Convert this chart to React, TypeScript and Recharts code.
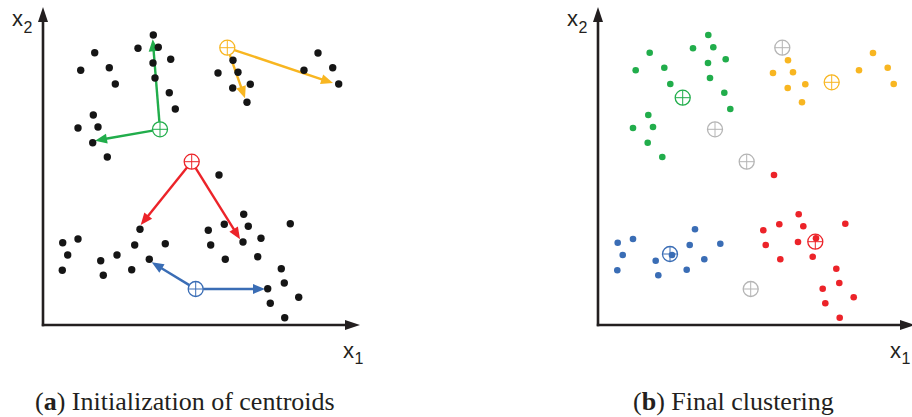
import { ScatterChart, Scatter, XAxis, YAxis, ReferenceLine } from 'recharts'

// Points are in axis units: origin at the corner of the axes, about 1 unit = 1px
type Pt = [number, number]

const clusterNames = ['green', 'yellow', 'red', 'blue']

const greenPts: Pt[] = [
  [110.3, 290], [115.3, 277.7], [95, 276.7], [51.7, 272.3], [127.7, 265.7], [110, 262],
  [37.7, 254.7], [66.3, 257.3], [72.3, 241], [112, 247], [126.3, 232.3], [132.3, 216],
  [50.3, 210], [35, 197], [55, 198], [49.7, 182.3], [64.3, 168],
]
const yellowPts: Pt[] = [
  [190, 264.7], [175, 252], [195, 252.7], [207.3, 240.7], [189.7, 237], [204, 222.7],
  [275, 272], [261, 254.7], [289.7, 257.3], [295.7, 241],
]
const redPts: Pt[] = [
  [176, 150], [165.3, 94.7], [181.3, 100.7], [200.7, 110.7], [205.3, 98.7], [167.7, 80],
  [200, 83], [218, 86.7], [182.3, 65.7], [214.7, 68.3], [247.3, 101.3], [238.3, 56.3],
  [241.3, 42], [224.7, 36.3], [255.7, 27.7], [227.3, 21.7], [241.7, 7.3],
]
const bluePts: Pt[] = [
  [97, 95.7], [19.7, 82.3], [35, 86], [24.7, 70], [19.3, 54.7], [57.7, 64.3],
  [60.3, 49.7], [74, 70], [91.7, 80], [88.7, 55.3], [106.3, 65.7], [122.3, 81.3],
]
const clusterPts = [greenPts, yellowPts, redPts, bluePts]

// starting centroids (a) and where they end up (b)
const initCentroids: Pt[] = [[117, 195.7], [184.3, 277.3], [148.7, 163.3], [152.7, 36]]
const finalCentroids: Pt[] = [[84.7, 227.3], [233.7, 242.7], [217.3, 83.3], [72, 71]]
// arrow tips from each starting centroid
const arrowTips: Pt[][] = [
  [[109.7, 285.7], [52, 184.3]],
  [[290, 242], [202, 226.7]],
  [[97.7, 100], [197, 85.7]],
  [[108.7, 62.7], [222, 36]],
]

const COLORS: Record<string, string> = {
  green: '#21ad4b',
  yellow: '#f8b621',
  red: '#ec2329',
  blue: '#3a6db5',
  black: '#151515',
  gray: '#b5b5b5',
  axis: '#231f20',
}

const W = 380
const H = 345
const MARGIN = { top: 5, right: 17, bottom: 20, left: 43 }
const DOMAIN: [number, number] = [0, 320]

const toData = (pts: Pt[]) => pts.map(([x, y]) => ({ x, y }))

const dot = (fill: string, r: number) => (p: any) => (
  <circle cx={p.cx} cy={p.cy} r={r} fill={fill} />
)

const centroid = (stroke: string) => (p: any) => {
  const r = 7.5
  return (
    <g>
      <circle cx={p.cx} cy={p.cy} r={r} fill="none" stroke={stroke} strokeWidth={1.3} />
      <line x1={p.cx - r} y1={p.cy} x2={p.cx + r} y2={p.cy} stroke={stroke} strokeWidth={1} />
      <line x1={p.cx} y1={p.cy - r} x2={p.cx} y2={p.cy + r} stroke={stroke} strokeWidth={1} />
    </g>
  )
}

const arrow = (color: string, width: number, headLen: number, headHalf: number, gap: number) => (p: any) => {
  const { x1, y1, x2, y2 } = p
  const dx = x2 - x1
  const dy = y2 - y1
  const len = Math.hypot(dx, dy) || 1
  const ux = dx / len
  const uy = dy / len
  const sx = x1 + ux * gap
  const sy = y1 + uy * gap
  const bx = x2 - ux * headLen
  const by = y2 - uy * headLen
  return (
    <g>
      <line x1={sx} y1={sy} x2={bx + ux} y2={by + uy} stroke={color} strokeWidth={width} />
      <polygon
        points={`${x2},${y2} ${bx - uy * headHalf},${by + ux * headHalf} ${bx + uy * headHalf},${by - ux * headHalf}`}
        fill={color}
      />
    </g>
  )
}

function Panel({ final }: { final: boolean }) {
  return (
    <ScatterChart width={W} height={H} margin={MARGIN}>
      <XAxis type="number" dataKey="x" domain={DOMAIN} allowDataOverflow hide />
      <YAxis type="number" dataKey="y" domain={DOMAIN} allowDataOverflow hide />
      <ReferenceLine
        segment={[{ x: 0, y: -1.2 }, { x: 0, y: 318 }]}
        ifOverflow="visible"
        shape={arrow(COLORS.axis, 2.6, 15, 5, 0)}
      />
      <ReferenceLine
        segment={[{ x: -1.2, y: 0 }, { x: 317, y: 0 }]}
        ifOverflow="visible"
        shape={arrow(COLORS.axis, 2.6, 15, 5, 0)}
      />
      {!final && clusterNames.map((name, i) =>
        arrowTips[i].map((tip, j) => (
          <ReferenceLine
            key={`${name}-${j}`}
            segment={[{ x: initCentroids[i][0], y: initCentroids[i][1] }, { x: tip[0], y: tip[1] }]}
            ifOverflow="visible"
            shape={arrow(COLORS[name], 2.4, 12, 5, 7.5)}
          />
        ))
      )}
      {final && (
        <Scatter data={toData(initCentroids)} shape={centroid(COLORS.gray)} isAnimationActive={false} />
      )}
      {clusterNames.map((name, i) => (
        <Scatter
          key={`c-${name}`}
          data={toData([final ? finalCentroids[i] : initCentroids[i]])}
          shape={centroid(COLORS[name])}
          isAnimationActive={false}
        />
      ))}
      {clusterNames.map((name, i) => (
        <Scatter
          key={`p-${name}`}
          data={toData(clusterPts[i])}
          shape={dot(final ? COLORS[name] : COLORS.black, final ? 3.3 : 3.7)}
          isAnimationActive={false}
        />
      ))}
    </ScatterChart>
  )
}

const sans = 'Liberation Sans, Arial, sans-serif'
const serif = 'Liberation Serif, Times New Roman, serif'

export default function App() {
  return (
    <div style={{ position: 'absolute', left: 0, top: 0, width: 912, height: 417, overflow: 'hidden', background: '#fff' }}>
      <div style={{ position: 'absolute', left: 0, top: 0 }}>
        <Panel final={false} />
      </div>
      <div style={{ position: 'absolute', left: 555, top: 0 }}>
        <Panel final />
      </div>
      <svg width={912} height={417} style={{ position: 'absolute', left: 0, top: 0, pointerEvents: 'none' }}>
        <g fill={COLORS.axis} fontFamily={sans}>
          <text x={12} y={26} fontSize={22}>x</text>
          <text x={23.5} y={33} fontSize={16}>2</text>
          <text x={567} y={26} fontSize={22}>x</text>
          <text x={578.5} y={33} fontSize={16}>2</text>
          <text x={343} y={358} fontSize={22}>x</text>
          <text x={354.5} y={364} fontSize={16}>1</text>
          <text x={890} y={358} fontSize={22}>x</text>
          <text x={901.5} y={364} fontSize={16}>1</text>
        </g>
        <g fill={COLORS.axis} fontFamily={serif} fontSize={26}>
          <text x={35} y={410}>(<tspan fontWeight="bold">a</tspan>) Initialization of centroids</text>
          <text x={633} y={410}>(<tspan fontWeight="bold">b</tspan>) Final clustering</text>
        </g>
      </svg>
    </div>
  )
}
